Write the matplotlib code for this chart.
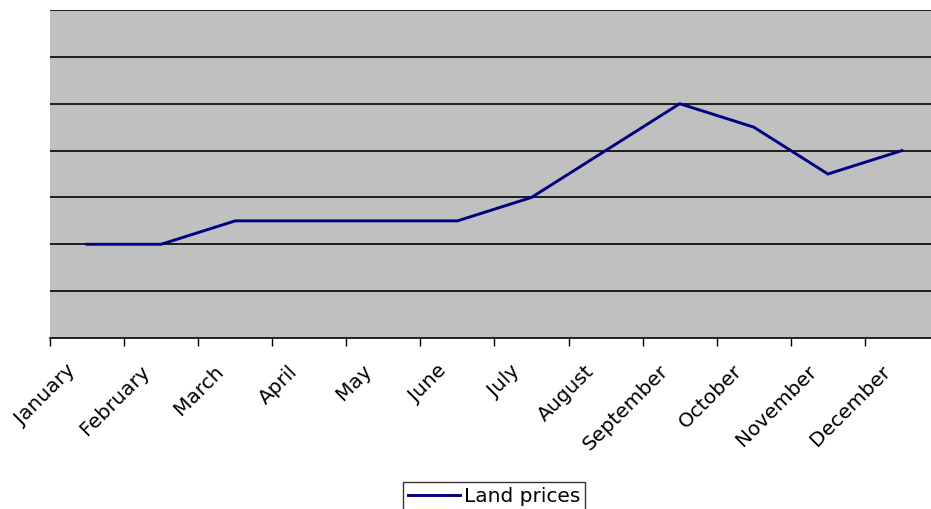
"""Land prices line chart"""
import matplotlib
matplotlib.use("Agg")
import matplotlib.pyplot as plt
import matplotlib.transforms as mtransforms
import numpy as np

months = ["January", "February", "March", "April", "May", "June", "July",
          "August", "September", "October", "November", "December"]
land_prices = [2, 2, 2.5, 2.5, 2.5, 2.5, 3, 4, 5, 4.5, 3.5, 4]

plt.rcParams['font.family'] = ['DejaVu Sans']

fig = plt.figure(figsize=(9.31, 5.09), dpi=100)
# the plot area runs past the right edge of the picture, as in the original
ax = fig.add_axes([50 / 931, 1 - 338 / 509, 889 / 931, 328 / 509])
ax.set_facecolor("#c0c0c0")

x = np.arange(len(months))
ax.plot(x, land_prices, color="#000080", linewidth=2.1, label="Land prices",
        solid_joinstyle="miter", zorder=3)

ax.set_xlim(-0.5, len(months) - 0.5)
ax.set_ylim(0, 7)
ax.set_yticks(range(1, 8))
ax.yaxis.grid(True, color="black", linewidth=1.2)
ax.tick_params(axis="y", left=False, labelleft=False)

ax.set_xticks(x)
ax.set_xticklabels(months, rotation=45, ha="right", rotation_mode="anchor",
                   fontsize=14.5)
ax.set_xticks(np.arange(len(months) + 1) - 0.5, minor=True)
ax.tick_params(axis="x", which="major", length=0, pad=17)
ax.tick_params(axis="x", which="minor", length=6, width=1, color="black",
               direction="out")
shift = mtransforms.ScaledTranslation(-21 / 100, 0, fig.dpi_scale_trans)
for lbl in ax.get_xticklabels():
    lbl.set_transform(lbl.get_transform() + shift)

for side in ["left", "right", "top"]:
    ax.spines[side].set_visible(False)
ax.spines["bottom"].set_color("black")
ax.spines["bottom"].set_linewidth(1.2)

leg = fig.legend(loc="upper center", bbox_to_anchor=(494 / 931, 1 - 482 / 509),
                 fontsize=14.5, frameon=True, fancybox=False, handlelength=2.6,
                 handletextpad=0.2, borderpad=0.25, borderaxespad=0)
leg.get_frame().set_edgecolor("black")
leg.get_frame().set_linewidth(1)

plt.savefig("out.png", dpi=100)
